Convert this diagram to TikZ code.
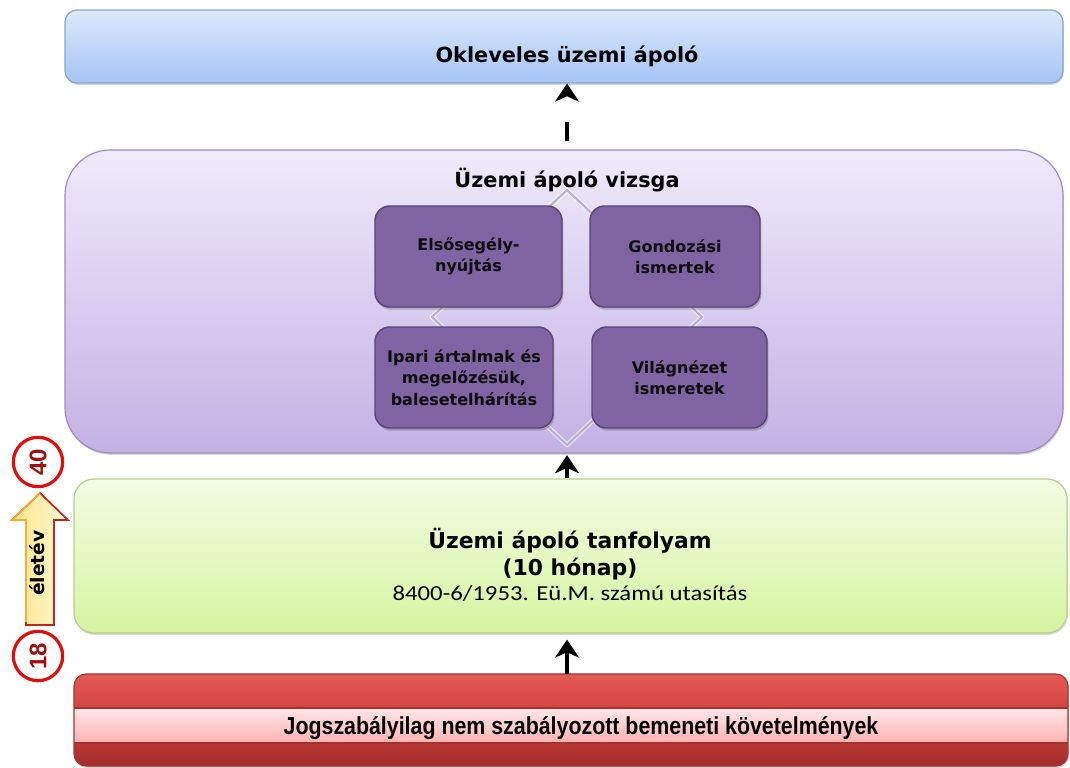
\documentclass[tikz,border=0pt]{standalone}
\usepackage{fontspec}
\setmainfont{DejaVu Sans}
\newfontfamily\libsans{Liberation Sans}
\newfontfamily\carlito{Carlito}
\usetikzlibrary{arrows.meta,shadows}

\definecolor{blueTop}{HTML}{DDE9FB}
\definecolor{blueBot}{HTML}{A5C5F6}
\definecolor{blueLine}{HTML}{8AA5CE}
\definecolor{lilaTop}{HTML}{EFEAFA}
\definecolor{lilaBot}{HTML}{C4B1E5}
\definecolor{lilaLine}{HTML}{A08BC3}
\definecolor{lilaBox}{HTML}{7F63A2}
\definecolor{lilaBoxLine}{HTML}{5B4678}
\definecolor{diamondLine}{HTML}{B9B0C9}
\definecolor{greenTop}{HTML}{F4FCE3}
\definecolor{greenBot}{HTML}{D5F4A0}
\definecolor{greenLine}{HTML}{B8CE8C}
\definecolor{redTopA}{HTML}{E45C56}
\definecolor{redTopB}{HTML}{D2453F}
\definecolor{pinkTop}{HTML}{FFE7E7}
\definecolor{pinkBot}{HTML}{FFB1B1}
\definecolor{redDarkA}{HTML}{B83935}
\definecolor{redDarkB}{HTML}{A42B2B}
\definecolor{redLine}{HTML}{A8322F}
\definecolor{ageRed}{HTML}{DD0F0F}
\definecolor{ageText}{HTML}{9E1010}
\definecolor{arrowYellow}{HTML}{FDE58A}
\definecolor{arrowPale}{HTML}{FFF9D6}
\definecolor{arrowOrange}{HTML}{F2B12E}
\definecolor{arrowRed}{HTML}{C0261C}

\begin{document}
\begin{tikzpicture}[x=0.75pt,y=-0.75pt,
  softshadow/.style={drop shadow={shadow xshift=0.6pt,shadow yshift=-1.4pt,opacity=0.22,fill=black!70}},
  bluebox/.style={rectangle,rounded corners=9pt,draw=blueLine,line width=0.9pt,
    top color=blueTop,bottom color=blueBot,minimum width=748.5pt,minimum height=54.75pt,softshadow},
  lilabox/.style={rectangle,rounded corners=34pt,draw=lilaLine,line width=0.9pt,
    top color=lilaTop,bottom color=lilaBot,minimum width=748.5pt,minimum height=227.25pt,softshadow},
  greenbox/.style={rectangle,rounded corners=15pt,draw=greenLine,line width=0.9pt,
    top color=greenTop,bottom color=greenBot,minimum width=744.75pt,minimum height=115.5pt,softshadow},
  topic/.style={rectangle,rounded corners=11pt,draw=lilaBoxLine,line width=1.1pt,fill=lilaBox,
    minimum height=75.75pt,align=center,text=black!95,
    font=\bfseries\fontsize{12}{16}\selectfont,
    drop shadow={shadow xshift=1pt,shadow yshift=-2pt,opacity=0.3,fill=black!70}},
  titletext/.style={font=\bfseries\fontsize{15.6}{18}\selectfont,text=black,inner sep=0pt},
  agecircle/.style={circle,draw=ageRed,line width=2.4pt,fill=white,minimum size=37pt,inner sep=0pt,
    rotate=90,text=ageText,font=\libsans\bfseries\fontsize{18}{18}\selectfont},
  conn/.style={line width=3.5pt,black,-{Stealth[length=13.5pt,width=18pt,inset=4pt]}}
]
\useasboundingbox (0,0) rectangle (1070,767);
% vertical axis shared by the connectors
\coordinate (axis) at (567,0);

% --- top: certificate ---
\node[bluebox] (oklev) at (564,46.5) {};
\node[titletext] (oklevtxt) at (567,56) {Okleveles üzemi ápoló};

% --- examination block ---
\node[lilabox] (vizsga) at (564,301.5) {};
\node[titletext] (vizsgatxt) at (567,180) {Üzemi ápoló vizsga};
\draw[white,line width=3.4pt,line join=round,opacity=0.6]
  (567,190) -- (702,317) -- (567,445) -- (432,317) -- cycle;
\draw[diamondLine,line width=1.6pt,line join=round]
  (567,190) -- (702,317) -- (567,445) -- (432,317) -- cycle;

\node[topic,minimum width=140.25pt] (elso) at (468.5,256.5) {Elsősegély-\\nyújtás};
\node[topic,minimum width=127.5pt]  (gond) at (675,256.5)   {Gondozási\\ismertek};
\node[topic,minimum width=133.5pt]  (ipar) at (464,377.5)   {Ipari ártalmak és\\megelőzésük,\\balesetelhárítás};
\node[topic,minimum width=131.25pt] (vilag) at (679.5,377.5) {Világnézet\\ismeretek};

% --- course block ---
\node[greenbox] (tanf) at (570.5,556) {};
\node[align=center,inner sep=0pt,font=\bfseries\fontsize{16.4}{20}\selectfont] (tanftxt) at (570,565)
  {Üzemi ápoló tanfolyam\\(10 hónap)\\[-1pt]
   \mdseries\carlito\fontsize{16}{20}\selectfont\scalebox{1.16}[1]{8400-6/1953. Eü.M. számú utasítás}};

% --- entry requirements (banded bar) ---
\fill[black,opacity=0.18,rounded corners=9pt] (75,676) rectangle (1069,768);
\begin{scope}
  \clip[rounded corners=9pt] (74,674) rectangle (1068,766);
  \shade[top color=redTopA,bottom color=redTopB] (74,674) rectangle (1068,708);
  \shade[top color=pinkTop,bottom color=pinkBot] (74,708) rectangle (1068,743);
  \shade[top color=redDarkA,bottom color=redDarkB] (74,743) rectangle (1068,766);
  \draw[redLine,line width=0.9pt] (74,708) -- (1068,708);
  \draw[redLine,line width=0.9pt] (74,743) -- (1068,743);
\end{scope}
\draw[redLine,line width=0.8pt,rounded corners=9pt] (74,674) rectangle (1068,766);
\node[minimum width=745.5pt,minimum height=69pt,inner sep=0pt] (jog) at (571,720) {};
\node[inner sep=0pt,anchor=base] (jogtxt) at (581,734)
  {\resizebox{446pt}{13.5pt}{\libsans\bfseries\fontsize{14}{16}\selectfont Jogszabályilag nem szabályozott bemeneti követelmények}};

% --- connectors ---
\draw[conn,shorten <=6pt,dash pattern=on 14.5pt off 40pt] (vizsga.north -| axis) -- (oklev.south -| axis);
\draw[conn,shorten >=1.2pt] (tanf.north -| axis) -- (vizsga.south -| axis);
\draw[conn,shorten >=4.5pt] (jog.north -| axis) -- (tanf.south -| axis);

% --- age range marker ---
\shade[left color=arrowYellow,right color=arrowPale,draw=arrowRed,line width=1.3pt,line join=miter]
  (40,493) -- (68,520) -- (54,520) -- (54,625) -- (26,625) -- (26,520) -- (12,520) -- cycle;
\draw[arrowOrange,line width=1.3pt,line join=miter] (26,622) -- (26,520) -- (12,520) -- (40,493);
\node[rotate=90,inner sep=0pt,font=\bfseries\fontsize{14}{14}\selectfont] (eletev) at (37,563) {életév};
\node[agecircle] (c40) at (38,462) {40};
\node[agecircle] (c18) at (38,656) {18};
\end{tikzpicture}
\end{document}
